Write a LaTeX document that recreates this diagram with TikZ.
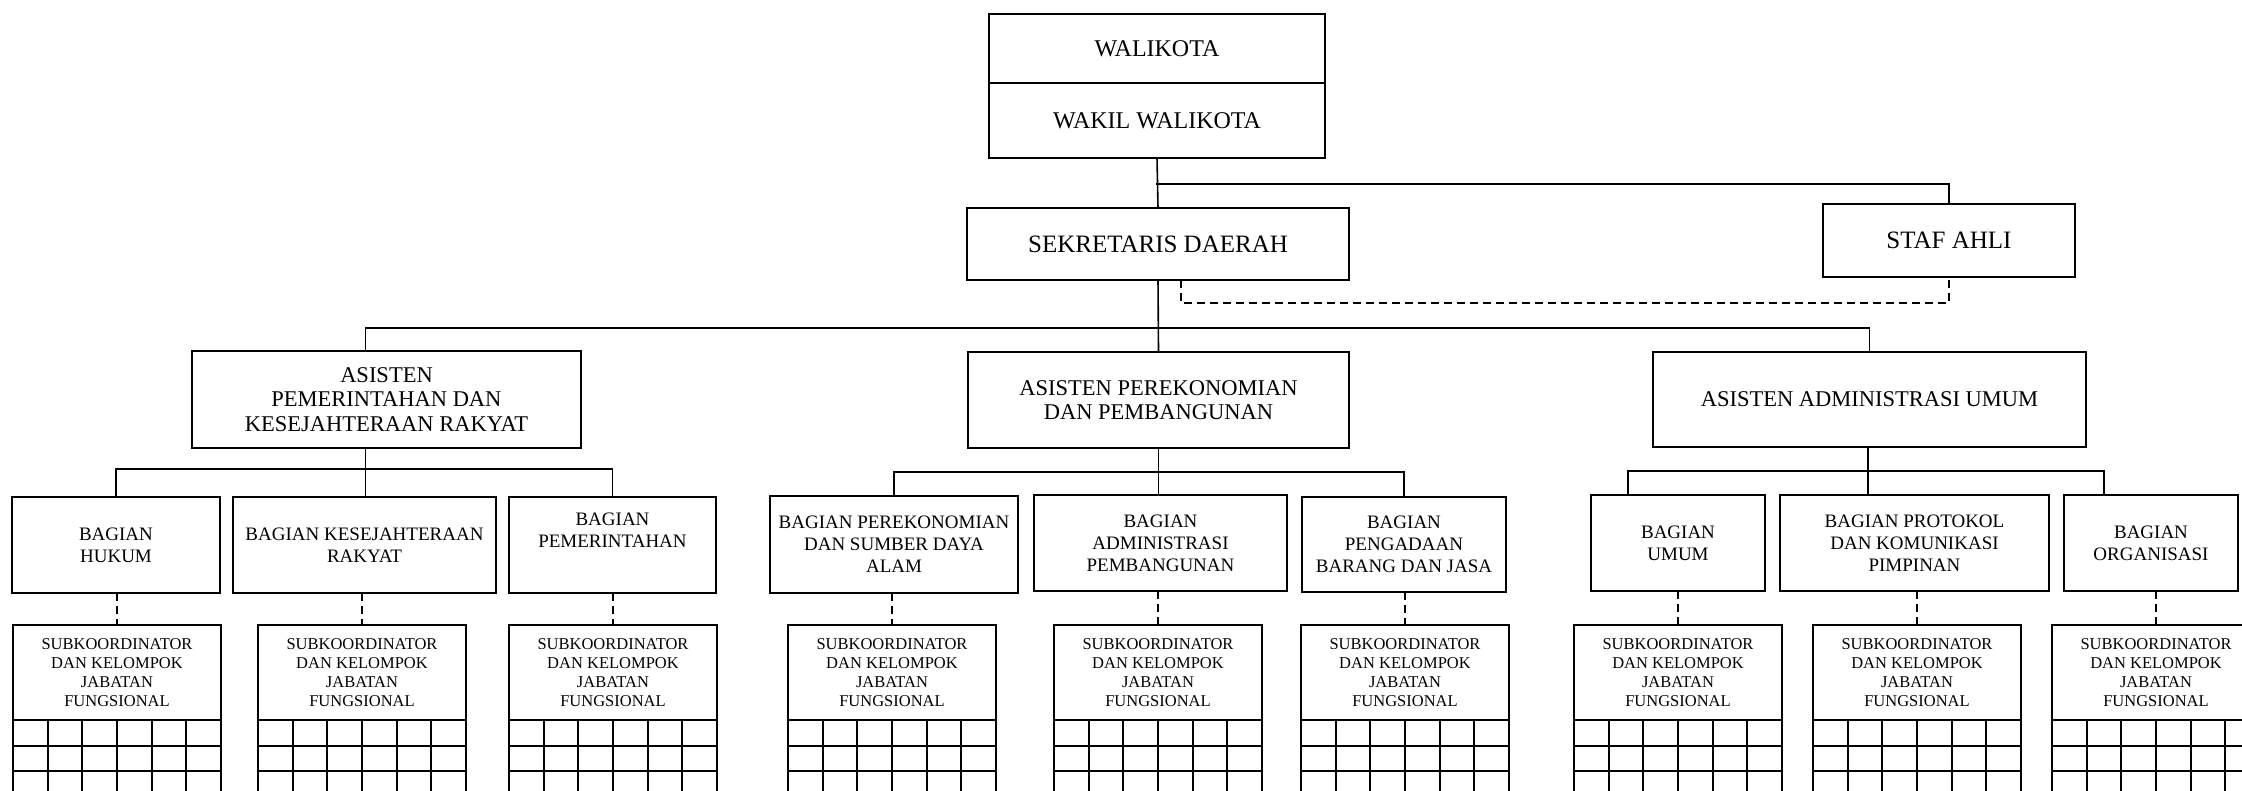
\documentclass[tikz,border=0pt]{standalone}
\usepackage{fontspec}
\setmainfont{Liberation Serif}
\usetikzlibrary{positioning}
\definecolor{linecol}{RGB}{0,0,0}
\newcommand{\orgfontW}{\fontsize{24}{27}\selectfont}
\newcommand{\orgfontTop}{\fontsize{25}{28}\selectfont}
\newcommand{\orgfontAs}{\fontsize{22.5}{24.5}\selectfont}
\newcommand{\orgfontBag}{\fontsize{19}{22}\selectfont}
\newcommand{\orgfontSub}{\fontsize{16.5}{19}\selectfont}
\tikzset{
  box/.style={draw=linecol, line width=1.4pt, inner sep=2pt, outer sep=0pt, align=center, anchor=north west},
  asbox/.style={box, font=\orgfontAs},
  bagbox/.style={box, font=\orgfontBag},
  subbox/.style={box, line width=2pt, minimum width=208, minimum height=95, font=\orgfontSub},
  conn/.style={draw=linecol, line width=1.6pt},
  dashconn/.style={conn, line cap=butt, dash pattern=on 8pt off 5pt},
  gridline/.style={draw=linecol, line width=2pt},
}
\begin{document}
\begin{tikzpicture}[x=1pt,y=-1pt,line cap=rect]
\useasboundingbox (0,0) rectangle (2242,791);
\clip (0,0) rectangle (2242,791);
% pimpinan
\node[box, minimum width=336, minimum height=69, font=\orgfontW] (wali) at (989,14) {WALIKOTA};
\node[box, minimum width=336, minimum height=75, font=\orgfontW] (wawali) at (989,83) {WAKIL WALIKOTA};
\node[box, minimum width=382, minimum height=72, font=\orgfontTop] (sekda) at (967,208) {SEKRETARIS DAERAH};
\node[box, minimum width=252, minimum height=73, font=\orgfontTop] (staf) at (1823,204) {STAF AHLI};
% asisten
\node[asbox, minimum width=389, minimum height=97] (asp) at (192,351) {ASISTEN\\PEMERINTAHAN DAN\\KESEJAHTERAAN RAKYAT};
\node[asbox, minimum width=381, minimum height=96] (asek) at (968,352) {ASISTEN PEREKONOMIAN\\DAN PEMBANGUNAN};
\node[asbox, minimum width=433, minimum height=95] (asadm) at (1653,352) {ASISTEN ADMINISTRASI UMUM};
% bagian
\node[bagbox, minimum width=208, minimum height=96] (bhuk) at (12,497) {BAGIAN\\HUKUM};
\node[bagbox, minimum width=263, minimum height=96] (bkes) at (233,497) {BAGIAN KESEJAHTERAAN\\RAKYAT};
\node[bagbox, minimum width=207, minimum height=96] (bpem) at (509,497) {BAGIAN\\PEMERINTAHAN\\[8pt]\mbox{}};
\node[bagbox, minimum width=248, minimum height=97] (bekon) at (770,496) {BAGIAN PEREKONOMIAN\\DAN SUMBER DAYA\\ALAM};
\node[bagbox, minimum width=253, minimum height=96] (badpem) at (1034,495) {BAGIAN\\ADMINISTRASI\\PEMBANGUNAN};
\node[bagbox, minimum width=204, minimum height=95] (bpbj) at (1302,497) {BAGIAN\\PENGADAAN\\BARANG DAN JASA};
\node[bagbox, minimum width=174, minimum height=96] (bumum) at (1591,495) {BAGIAN\\UMUM};
\node[bagbox, minimum width=269, minimum height=96] (bprot) at (1780,495) {BAGIAN PROTOKOL\\DAN KOMUNIKASI\\PIMPINAN};
\node[bagbox, minimum width=174, minimum height=96] (borg) at (2064,495) {BAGIAN\\ORGANISASI};
% subkoordinator
\foreach \i/\x in {1/13, 2/258, 3/509, 4/788, 5/1054, 6/1301, 7/1574, 8/1813, 9/2052}
  \node[subbox] (sub\i) at (\x,625) {SUBKOORDINATOR\\DAN KELOMPOK\\JABATAN\\FUNGSIONAL};
% garis komando
\draw[conn] (wawali.south) -- (sekda.north);
\coordinate (jstaf) at (1157,184);
\draw[conn] (jstaf) -| (staf.north);
\draw[dashconn] ([xshift=23pt]sekda.south) -- ++(0,23) -| (staf.south);
\coordinate (busA) at (1158,328);
\draw[conn] (sekda.south) -- (asek.north);
\draw[conn] ([xshift=-21pt]asp.north) |- (busA) -| (asadm.north);
% bagian bus
\draw[conn] ([xshift=-21pt]asp.south) -- ([xshift=-21pt]asp.south |- bkes.north);
\coordinate (busP) at (365,469);
\draw[conn] (bhuk.north) |- (busP) -| (bpem.north);
\draw[conn] (asek.south) -- (asek.south |- badpem.north);
\coordinate (busE) at (1158,472);
\draw[conn] (bekon.north) |- (busE) -| (bpbj.north);
\draw[conn] ([xshift=-1.5pt]asadm.south) -- ([xshift=-1.5pt]asadm.south |- bprot.north);
\coordinate (busU) at (1868,471);
\draw[conn] ([xshift=-50pt]bumum.north) |- (busU) -| ([xshift=-47pt]borg.north);
% garis koordinasi
\foreach \b/\i in {bhuk/1, bkes/2, bpem/3, bekon/4, badpem/5, bpbj/6, bumum/7, bprot/8, borg/9}
  \draw[dashconn] (sub\i.north |- \b.south) -- (sub\i.north);
% tabel jabatan
\foreach \i in {1,...,9} {
  \draw[gridline] (sub\i.south west) -- ++(0,80) (sub\i.south east) -- ++(0,80);
  \foreach \k in {1,...,5}
    \draw[gridline] ([xshift=\k*34.667]sub\i.south west) -- ++(0,80);
  \foreach \r in {1,2,3}
    \draw[gridline] ([yshift=-\r*25.5]sub\i.south west) -- ([yshift=-\r*25.5]sub\i.south east);
}
\end{tikzpicture}
\end{document}
